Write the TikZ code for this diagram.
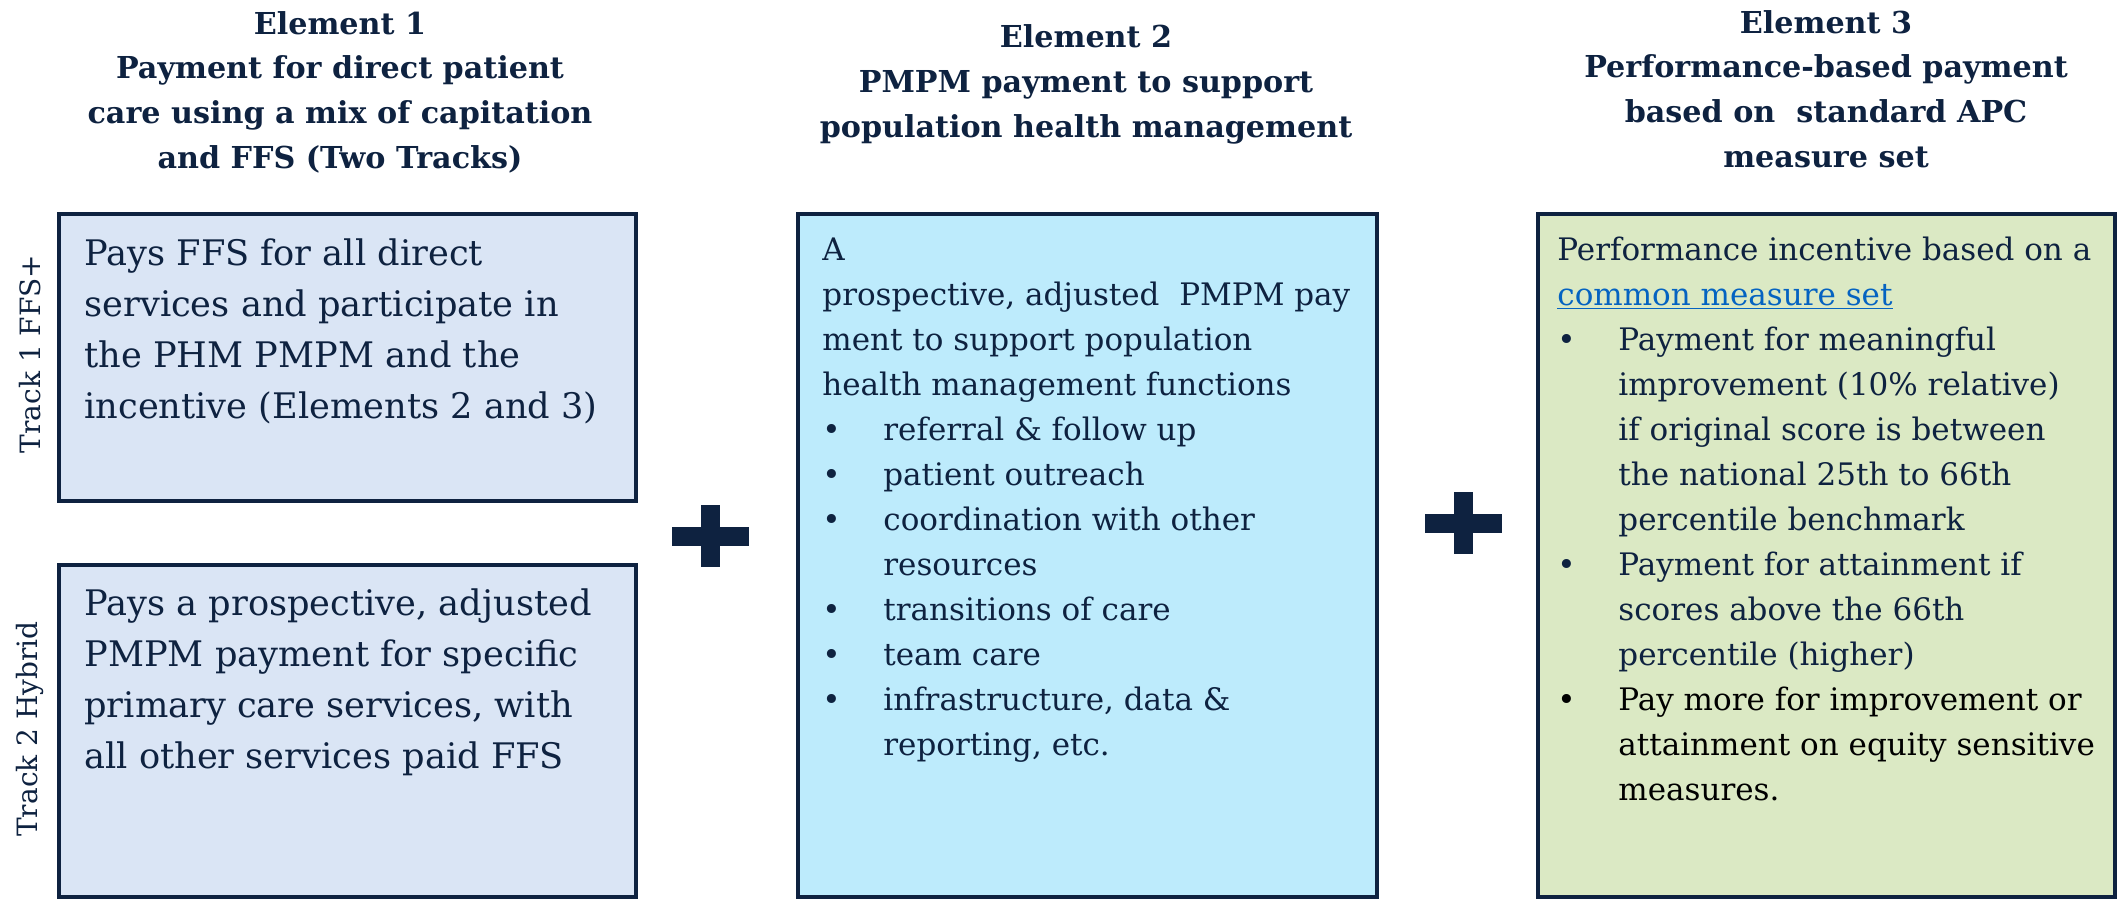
\documentclass[tikz,border=0pt]{standalone}
\usepackage{fontspec}
\setmainfont{DejaVu Serif}

\definecolor{navy}{HTML}{0E2240}
\definecolor{trackfill}{HTML}{DAE5F5}
\definecolor{pmpmfill}{HTML}{BDEBFC}
\definecolor{perffill}{HTML}{DBE9C4}
\definecolor{linkblue}{HTML}{0563C1}

\newcommand{\bul}{\makebox[30.5pt][l]{\textbullet}}
\newcommand{\ind}{\hspace*{30.5pt}}

\tikzset{
  elemhead/.style={font=\fontsize{15.1}{22.3}\selectfont\bfseries, text=navy,
    align=center, inner sep=0pt, anchor=base},
  tracklbl/.style={font=\fontsize{14}{16}\selectfont, text=navy, rotate=90,
    inner sep=0pt},
  bodybig/.style={font=\fontsize{17.6}{25.5}\selectfont, text=navy,
    align=left, inner sep=0pt, anchor=base west},
  bodysmall/.style={font=\fontsize{15.5}{22.5}\selectfont, text=navy,
    align=left, inner sep=0pt, anchor=base west},
  elembox/.style={draw=navy, line width=2pt},
}

\begin{document}
\begin{tikzpicture}[x=0.5pt, y=-0.5pt]
\useasboundingbox (0,0) rectangle (2118,900);

% --- Headings over the three elements (placed at the last baseline) ---
\node[elemhead] (head1) at (340,168) {Element 1\\Payment for direct patient\\care using a mix of capitation\\and FFS (Two Tracks)};
\node[elemhead] (head2) at (1086,137) {Element 2\\PMPM payment to support\\population health management};
\node[elemhead] (head3) at (1826,167) {Element 3\\Performance-based payment\\based on\ \ standard APC\\measure set};

% --- Element 1: the two tracks ---
\draw[elembox, fill=trackfill] (59,214) rectangle (636,501);
\draw[elembox, fill=trackfill] (59,565) rectangle (636,897);
\node[tracklbl] (track1) at (30,354) {Track 1 FFS+};
\node[tracklbl] (track2) at (30,729) {Track 2 Hybrid};
\node[bodybig] (ffs) at (84,418) {Pays FFS for all direct\\services and participate in\\the PHM PMPM and the\\incentive (Elements 2 and 3)};
\node[bodybig] (hybrid) at (84,768) {Pays a prospective, adjusted\\PMPM payment for specific\\primary care services, with\\all other services paid FFS};

% --- Element 2: PHM payment ---
\draw[elembox, fill=pmpmfill] (798,214) rectangle (1377,897);
\node[bodysmall] (phm) at (822,755) {A\\prospective, adjusted\ \ PMPM pay\\ment to support population\\health management functions\\
  \bul referral \& follow up\\\bul patient outreach\\\bul coordination with other\\\ind resources\\
  \bul transitions of care\\\bul team care\\\bul infrastructure, data \&\\\ind reporting, etc.};

% --- Element 3: performance payment ---
\draw[elembox, fill=perffill] (1538,214) rectangle (2115,897);
\node[bodysmall] (perf) at (1557,800) {Performance incentive based on a\\\textcolor{linkblue}{\underline{common measure set}}\\
  \bul Payment for meaningful\\\ind improvement (10\% relative)\\\ind if original score is between\\\ind the national 25th to 66th\\\ind percentile benchmark\\
  \bul Payment for attainment if\\\ind scores above the 66th\\\ind percentile (higher)\\
  \textcolor{black}{\bul Pay more for improvement or}\\\textcolor{black}{\ind attainment on equity sensitive}\\\textcolor{black}{\ind measures.}};

% --- Plus signs between the elements ---
\coordinate (plusA) at (710,536);
\coordinate (plusB) at (1463,523);
\foreach \p in {plusA,plusB}{
  \fill[navy] ([xshift=-19.25pt,yshift=-4.75pt]\p) rectangle ([xshift=19.25pt,yshift=4.75pt]\p);
  \fill[navy] ([xshift=-4.75pt,yshift=-15.5pt]\p) rectangle ([xshift=4.75pt,yshift=15.5pt]\p);
}

\end{tikzpicture}
\end{document}
